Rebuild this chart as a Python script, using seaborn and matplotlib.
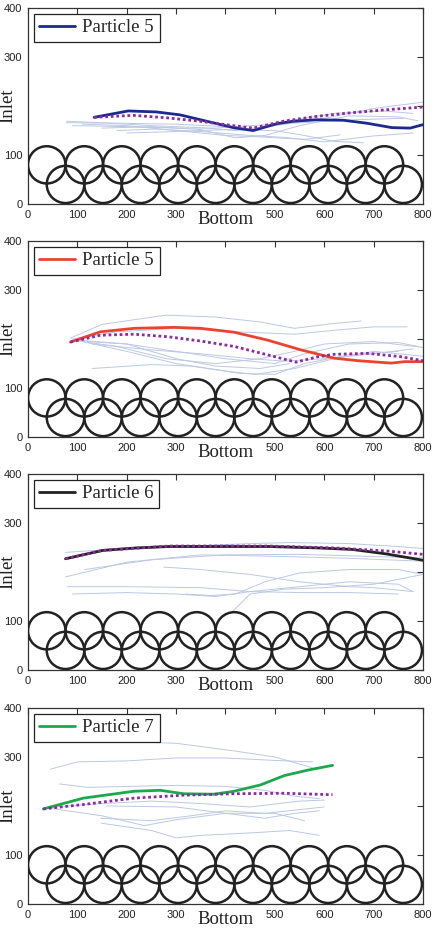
import numpy as np
import pandas as pd
import matplotlib
matplotlib.use("Agg")
import matplotlib.pyplot as plt
from matplotlib.patches import Circle
import seaborn as sns

# -------------------------
# Config
# -------------------------
sns.set_theme(style="white")
plt.rcParams["font.family"] = ["Liberation Sans", "DejaVu Sans"]
serif = ["Liberation Serif", "DejaVu Serif"]

# -------------------------
# Data
# -------------------------
# obstacle centres (two staggered rows)
top_row_x = [38, 114, 190, 266, 342, 418, 494, 570, 646, 722]
bottom_row_x = [76, 152, 228, 304, 380, 456, 532, 608, 684, 760]
top_row_y = 80
bottom_row_y = 40
radius = 38

panel_labels = ["Particle 5", "Particle 5", "Particle 6", "Particle 7"]
panel_colors = ["#1c2a8e", "#ea4330", "#222222", "#1da84e"]

# highlighted particle paths
main_x = [
    [134, 203, 260, 308, 362, 416, 456, 504, 537, 585, 639, 686, 737, 774, 800],
    [86, 147, 215, 296, 350, 418, 485, 553, 621, 668, 736, 763, 800],
    [76, 151, 218, 286, 387, 488, 590, 657, 725, 800],
    [31, 112, 214, 268, 315, 376, 417, 471, 519, 566, 617],
]
main_y = [
    [177, 190, 188, 182, 169, 156, 150, 164, 169, 172, 171, 165, 156, 155, 162],
    [194, 215, 222, 224, 222, 214, 198, 178, 161, 156, 151, 154, 154],
    [227, 244, 249, 252, 252, 252, 249, 246, 237, 224],
    [194, 216, 230, 232, 225, 224, 230, 243, 262, 273, 283],
]

# mean paths (dotted)
mean_x = [
    [134, 213, 281, 348, 416, 456, 517, 585, 652, 720, 800],
    [86, 147, 215, 282, 350, 418, 485, 543, 587, 621, 688, 756, 800],
    [76, 151, 286, 488, 623, 725, 800],
    [31, 112, 214, 315, 417, 519, 617],
]
mean_y = [
    [177, 181, 176, 169, 160, 155, 169, 179, 186, 192, 198],
    [194, 208, 210, 205, 196, 185, 168, 153, 164, 169, 171, 164, 156],
    [227, 244, 253, 253, 249, 243, 236],
    [194, 203, 216, 222, 225, 226, 223],
]

# other particle paths (faint)
bg_x = [
    [
        [78, 150, 250, 350, 420, 500, 600, 700, 800],
        [78, 180, 300, 400, 460, 520, 620, 720, 780],
        [150, 250, 350, 420, 480, 550, 650, 750, 790],
        [110, 200, 300, 400, 470, 560, 632],
        [180, 260, 350, 450, 520, 600, 700, 780],
        [90, 200, 300, 380, 450, 540, 660, 760],
        [200, 300, 400, 500, 560, 620, 680],
    ],
    [
        [86, 150, 280, 380, 470, 540, 620, 675],
        [90, 180, 300, 420, 540, 620, 700, 768],
        [100, 200, 300, 400, 500, 560, 650, 750, 790],
        [110, 200, 300, 400, 460, 540, 620, 700, 800],
        [130, 250, 350, 450, 520, 600, 700, 780],
        [130, 250, 330, 430, 500, 560, 650, 750],
        [90, 180, 280, 380, 470, 540, 600, 700, 800],
        [120, 200, 300, 380, 470, 530],
    ],
    [
        [76, 150, 300, 450, 530, 650, 750, 800],
        [76, 200, 350, 500, 650, 800],
        [115, 250, 400, 550, 650, 750, 800],
        [275, 350, 450, 550, 650, 700, 780],
        [80, 200, 350, 450, 550, 650, 750],
        [90, 200, 300, 380, 450, 550, 650, 750, 780],
        [320, 370, 420, 480, 550, 650, 750, 800],
        [415, 450, 520, 600, 700, 800],
    ],
    [
        [150, 300, 420, 500, 576],
        [45, 100, 200, 300, 400, 500, 576],
        [64, 120, 200, 300, 400, 480, 540, 590],
        [40, 150, 250, 350, 450, 550, 600],
        [40, 150, 236, 300, 400, 500, 560],
        [147, 250, 330, 400, 480, 600],
        [148, 250, 300, 350, 450, 530, 590],
        [160, 300, 400, 480, 540, 590],
    ],
]
bg_y = [
    [
        [169, 166, 160, 156, 150, 160, 175, 195, 208],
        [166, 165, 163, 158, 150, 168, 185, 190, 185],
        [155, 158, 152, 135, 140, 160, 180, 178, 170],
        [163, 160, 150, 140, 137, 132, 141],
        [150, 153, 148, 140, 136, 127, 139, 145],
        [160, 158, 155, 155, 160, 165, 172, 175],
        [145, 148, 152, 150, 140, 128, 125],
    ],
    [
        [202, 230, 249, 245, 235, 222, 232, 237],
        [200, 215, 222, 215, 210, 218, 225, 225],
        [198, 190, 175, 160, 150, 170, 190, 193, 185],
        [195, 175, 150, 135, 128, 140, 160, 175, 165],
        [190, 178, 170, 160, 155, 160, 170, 180],
        [140, 148, 145, 130, 128, 150, 168, 175],
        [198, 185, 160, 150, 160, 175, 190, 195, 183],
        [195, 190, 160, 145, 140, 150],
    ],
    [
        [240, 245, 252, 258, 260, 258, 252, 248],
        [190, 220, 235, 232, 228, 222],
        [205, 225, 235, 236, 233, 230, 230],
        [210, 205, 195, 180, 170, 168, 160],
        [170, 170, 168, 160, 158, 158, 155],
        [155, 158, 155, 150, 160, 170, 180, 175, 160],
        [155, 152, 155, 180, 198, 205, 205, 195],
        [120, 155, 165, 168, 175, 195],
    ],
    [
        [333, 328, 312, 300, 278],
        [275, 290, 292, 298, 298, 293, 290],
        [245, 238, 240, 242, 240, 232, 220, 215],
        [197, 205, 210, 205, 198, 210, 212],
        [196, 180, 160, 172, 185, 185, 170],
        [175, 170, 180, 190, 185, 198],
        [165, 150, 135, 140, 145, 150, 140],
        [200, 198, 185, 175, 185, 190],
    ],
]

x_ticks = [0, 100, 200, 300, 400, 500, 600, 700, 800]
x_ticklabels = ["0", "100", "200", "300", "", "500", "600", "700", "800"]
y_ticks = [0, 100, 200, 300, 400]
y_ticklabels = ["0", "100", "", "300", "400"]

# -------------------------
# Plot
# -------------------------
fig = plt.figure(figsize=(4.34, 9.36), dpi=100)
# axes rectangles in figure fraction (left, bottom, width, height)
rects = [
    (0.0645, 0.782, 0.910, 0.2094),
    (0.0645, 0.533, 0.910, 0.2094),
    (0.0645, 0.2842, 0.910, 0.2094),
    (0.0645, 0.0342, 0.910, 0.2094),
]

for i, rect in enumerate(rects):
    ax = fig.add_axes(rect)

    # faint trajectories
    rows = []
    for k, (xs, ys) in enumerate(zip(bg_x[i], bg_y[i])):
        for xv, yv in zip(xs, ys):
            rows.append({"x": xv, "y": yv, "traj": k})
    bg = pd.DataFrame(rows)
    sns.lineplot(data=bg, x="x", y="y", units="traj", estimator=None,
                 sort=False, color="#bcc8e4", linewidth=0.7, ax=ax)

    # highlighted particle
    main = pd.DataFrame({"x": main_x[i], "y": main_y[i]})
    sns.lineplot(data=main, x="x", y="y", sort=False, estimator=None,
                 color=panel_colors[i], linewidth=2.0, ax=ax,
                 label=panel_labels[i], zorder=4)

    # mean path
    mean = pd.DataFrame({"x": mean_x[i], "y": mean_y[i]})
    sns.lineplot(data=mean, x="x", y="y", sort=False, estimator=None,
                 color="#8b2c9c", linewidth=2.0, linestyle=(0, (1, 1)),
                 ax=ax, zorder=5)

    # obstacles
    for cx in top_row_x:
        ax.add_patch(Circle((cx, top_row_y), radius, fill=False,
                            edgecolor="#222222", linewidth=1.8, zorder=3))
    for cx in bottom_row_x:
        ax.add_patch(Circle((cx, bottom_row_y), radius, fill=False,
                            edgecolor="#222222", linewidth=1.8, zorder=3))

    ax.set_xlim(0, 800)
    ax.set_ylim(0, 400)
    ax.set_xticks(x_ticks)
    ax.set_xticklabels(x_ticklabels)
    ax.set_yticks(y_ticks)
    ax.set_yticklabels(y_ticklabels)
    ax.tick_params(direction="in", length=4, width=0.8, labelsize=8,
                   top=True, right=True, colors="#333333",
                   labelcolor="#222222", pad=4)
    for s in ax.spines.values():
        s.set_color("#333333")
        s.set_linewidth(0.9)

    ax.set_xlabel("Bottom", family=serif, fontsize=13.5, color="#222222")
    ax.xaxis.set_label_coords(0.5, -0.035)
    ax.set_ylabel("")
    ax.text(-0.052, 0.5, "Inlet", transform=ax.transAxes, rotation=90,
            ha="center", va="center", family=serif, fontsize=13.5,
            color="#222222")

    leg = ax.legend(loc="upper left", prop={"family": serif, "size": 13.5},
                    frameon=True, fancybox=False, framealpha=1,
                    edgecolor="#222222", handlelength=1.9,
                    borderaxespad=0.3, borderpad=0.3, handletextpad=0.4)
    leg.get_frame().set_linewidth(0.9)

fig.savefig("out.png", dpi=100)
plt.close(fig)
